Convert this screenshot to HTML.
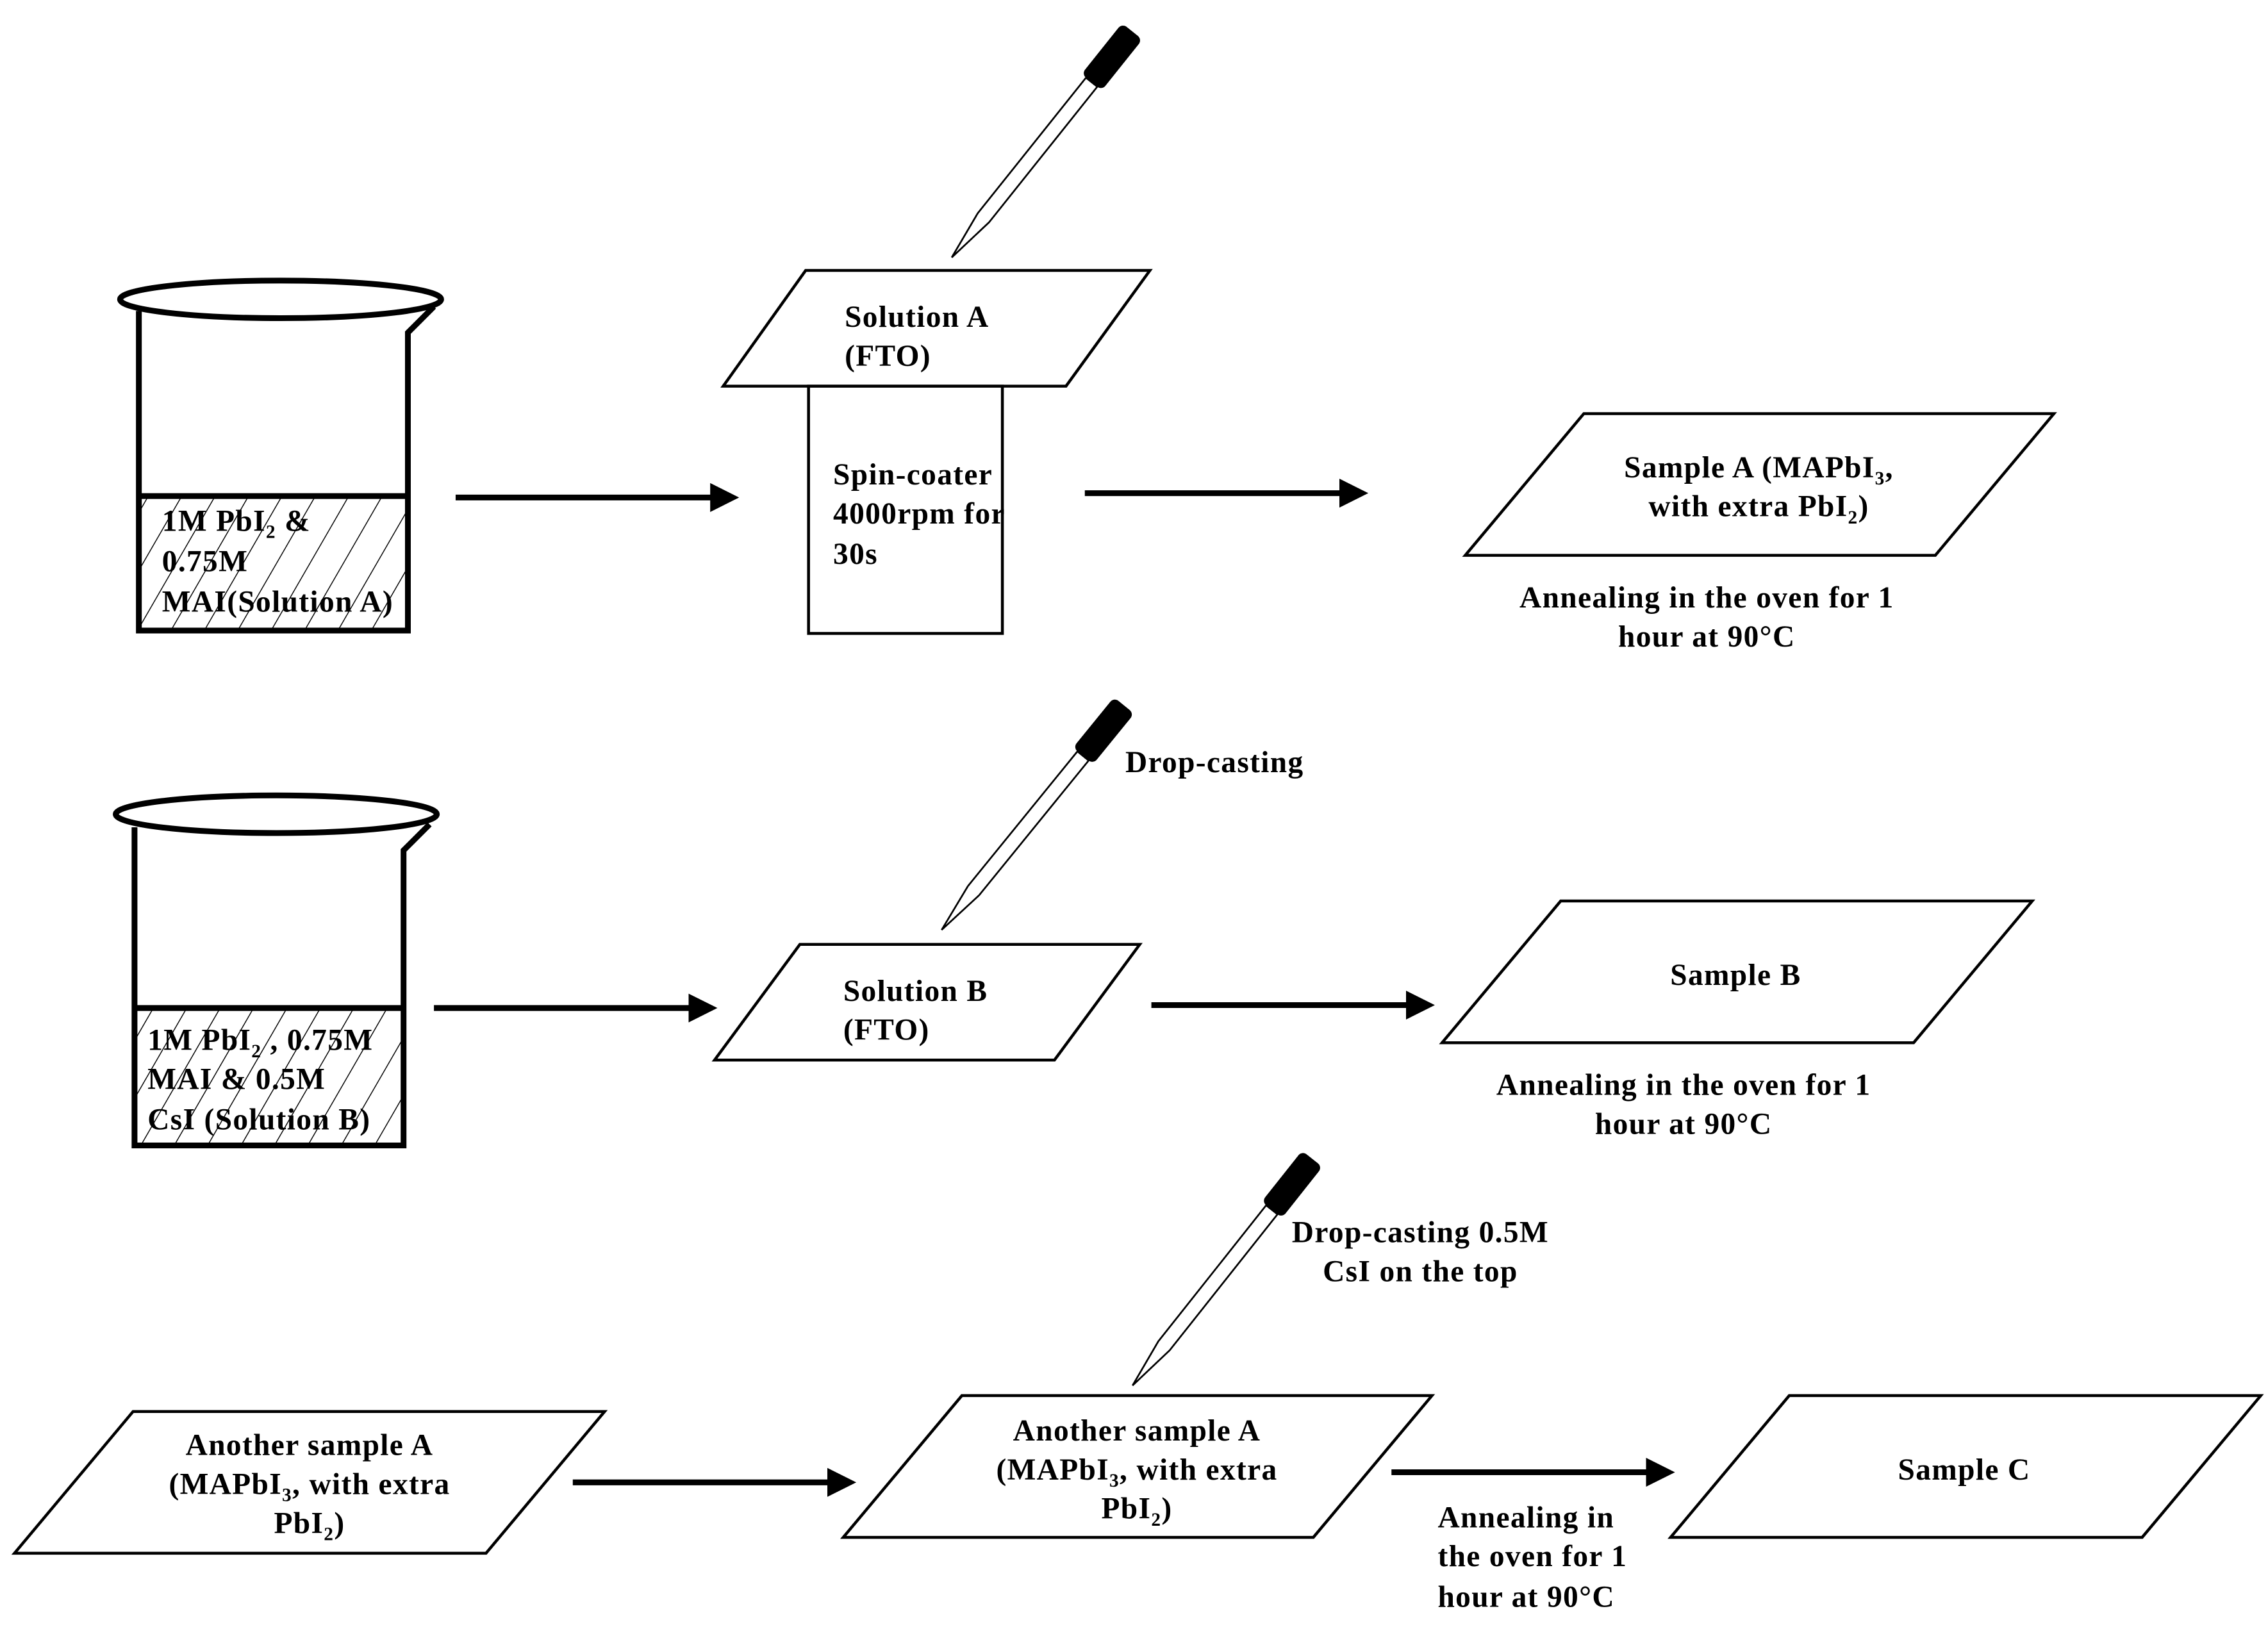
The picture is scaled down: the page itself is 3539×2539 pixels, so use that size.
<!DOCTYPE html>
<html><head><meta charset="utf-8"><style>
html,body{margin:0;padding:0;background:#fff;}
svg{display:block;}
text{font-family:"Liberation Serif",serif;font-weight:bold;font-size:21px;letter-spacing:0.6px;fill:#000;}
</style></head><body>
<svg width="3539" height="2539" viewBox="0 0 1568 1125" preserveAspectRatio="none" xmlns="http://www.w3.org/2000/svg">
<defs>
<pattern id="h" patternUnits="userSpaceOnUse" width="20" height="20" patternTransform="rotate(30)">
<line x1="0" y1="0" x2="0" y2="20" stroke="#000" stroke-width="1.3"/>
</pattern>
<marker id="a" markerWidth="5" markerHeight="5" refX="4" refY="2.5" orient="auto" markerUnits="strokeWidth">
<path d="M0,0 L5,2.5 L0,5 z" fill="#000"/>
</marker>
<g id="pip">
<path d="M0,0 L35,-5 L155,-5 L155,5 L35,5 Z" fill="#fff" stroke="#000" stroke-width="1.2"/>
<rect x="155" y="-9" width="45" height="18" rx="4" fill="#000"/>
</g>
</defs>

<!-- Beaker A -->
<rect x="96" y="343" width="186" height="93" fill="url(#h)"/>
<g stroke="#000" stroke-width="4" fill="none">
<ellipse cx="194" cy="207" rx="111" ry="13"/>
<path d="M96,215 V436 H282 V230 L300,212"/>
<line x1="96" y1="343" x2="282" y2="343"/>
</g>
<text x="112" y="367">1M PbI<tspan font-size="13" dy="5">2</tspan><tspan dy="-5"> &amp;</tspan></text>
<text x="112" y="395">0.75M</text>
<text x="112" y="423">MAI(Solution A)</text>

<line x1="315" y1="344" x2="507" y2="344" stroke="#000" stroke-width="4" marker-end="url(#a)"/>

<use href="#pip" transform="translate(658,178) rotate(-51.4)"/>
<polygon points="500,267 557,187 795,187 737,267" fill="#fff" stroke="#000" stroke-width="2"/>
<rect x="559" y="267" width="134" height="171" fill="none" stroke="#000" stroke-width="2"/>
<text x="584" y="226">Solution A</text>
<text x="584" y="253">(FTO)</text>
<text x="576" y="335">Spin-coater</text>
<text x="576" y="362">4000rpm for</text>
<text x="576" y="390">30s</text>

<line x1="750" y1="341" x2="942" y2="341" stroke="#000" stroke-width="4" marker-end="url(#a)"/>

<polygon points="1013,384 1095,286 1420,286 1338,384" fill="none" stroke="#000" stroke-width="2"/>
<text x="1216" y="330" text-anchor="middle">Sample A (MAPbI<tspan font-size="13" dy="5">3</tspan><tspan dy="-5">,</tspan></text>
<text x="1216" y="357" text-anchor="middle">with extra PbI<tspan font-size="13" dy="5">2</tspan><tspan dy="-5">)</tspan></text>
<text x="1180" y="420" text-anchor="middle">Annealing in the oven for 1</text>
<text x="1180" y="447" text-anchor="middle">hour at 90°C</text>

<!-- Beaker B -->
<rect x="93" y="697" width="186" height="95" fill="url(#h)"/>
<g stroke="#000" stroke-width="4" fill="none">
<ellipse cx="191" cy="563" rx="111" ry="13"/>
<path d="M93,572 V792 H279 V588 L297,570"/>
<line x1="93" y1="697" x2="279" y2="697"/>
</g>
<text x="102" y="726">1M PbI<tspan font-size="13" dy="5">2</tspan><tspan dy="-5"> , 0.75M</tspan></text>
<text x="102" y="753">MAI &amp; 0.5M</text>
<text x="102" y="781">CsI (Solution B)</text>

<line x1="300" y1="697" x2="492" y2="697" stroke="#000" stroke-width="4" marker-end="url(#a)"/>

<use href="#pip" transform="translate(651,643) rotate(-50.9)"/>
<text x="778" y="534">Drop-casting</text>
<polygon points="494,733 553,653 788,653 729,733" fill="none" stroke="#000" stroke-width="2"/>
<text x="583" y="692">Solution B</text>
<text x="583" y="719">(FTO)</text>

<line x1="796" y1="695" x2="988" y2="695" stroke="#000" stroke-width="4" marker-end="url(#a)"/>

<polygon points="997,721 1079,623 1405,623 1323,721" fill="none" stroke="#000" stroke-width="2"/>
<text x="1200" y="681" text-anchor="middle">Sample B</text>
<text x="1164" y="757" text-anchor="middle">Annealing in the oven for 1</text>
<text x="1164" y="784" text-anchor="middle">hour at 90°C</text>

<!-- Row 3 -->
<use href="#pip" transform="translate(783,958) rotate(-51.6)"/>
<text x="982" y="859" text-anchor="middle">Drop-casting 0.5M</text>
<text x="982" y="886" text-anchor="middle">CsI on the top</text>

<polygon points="10,1074 92,976 418,976 336,1074" fill="none" stroke="#000" stroke-width="2"/>
<text x="214" y="1006" text-anchor="middle">Another sample A</text>
<text x="214" y="1033" text-anchor="middle">(MAPbI<tspan font-size="13" dy="5">3</tspan><tspan dy="-5">, with extra</tspan></text>
<text x="214" y="1060" text-anchor="middle">PbI<tspan font-size="13" dy="5">2</tspan><tspan dy="-5">)</tspan></text>

<line x1="396" y1="1025" x2="588" y2="1025" stroke="#000" stroke-width="4" marker-end="url(#a)"/>

<polygon points="583,1063 665,965 990,965 908,1063" fill="#fff" stroke="#000" stroke-width="2"/>
<text x="786" y="996" text-anchor="middle">Another sample A</text>
<text x="786" y="1023" text-anchor="middle">(MAPbI<tspan font-size="13" dy="5">3</tspan><tspan dy="-5">, with extra</tspan></text>
<text x="786" y="1050" text-anchor="middle">PbI<tspan font-size="13" dy="5">2</tspan><tspan dy="-5">)</tspan></text>

<line x1="962" y1="1018" x2="1154" y2="1018" stroke="#000" stroke-width="4" marker-end="url(#a)"/>
<text x="994" y="1056">Annealing in</text>
<text x="994" y="1083">the oven for 1</text>
<text x="994" y="1111">hour at 90°C</text>

<polygon points="1155,1063 1237,965 1563,965 1481,1063" fill="none" stroke="#000" stroke-width="2"/>
<text x="1358" y="1023" text-anchor="middle">Sample C</text>
</svg>
</body></html>
